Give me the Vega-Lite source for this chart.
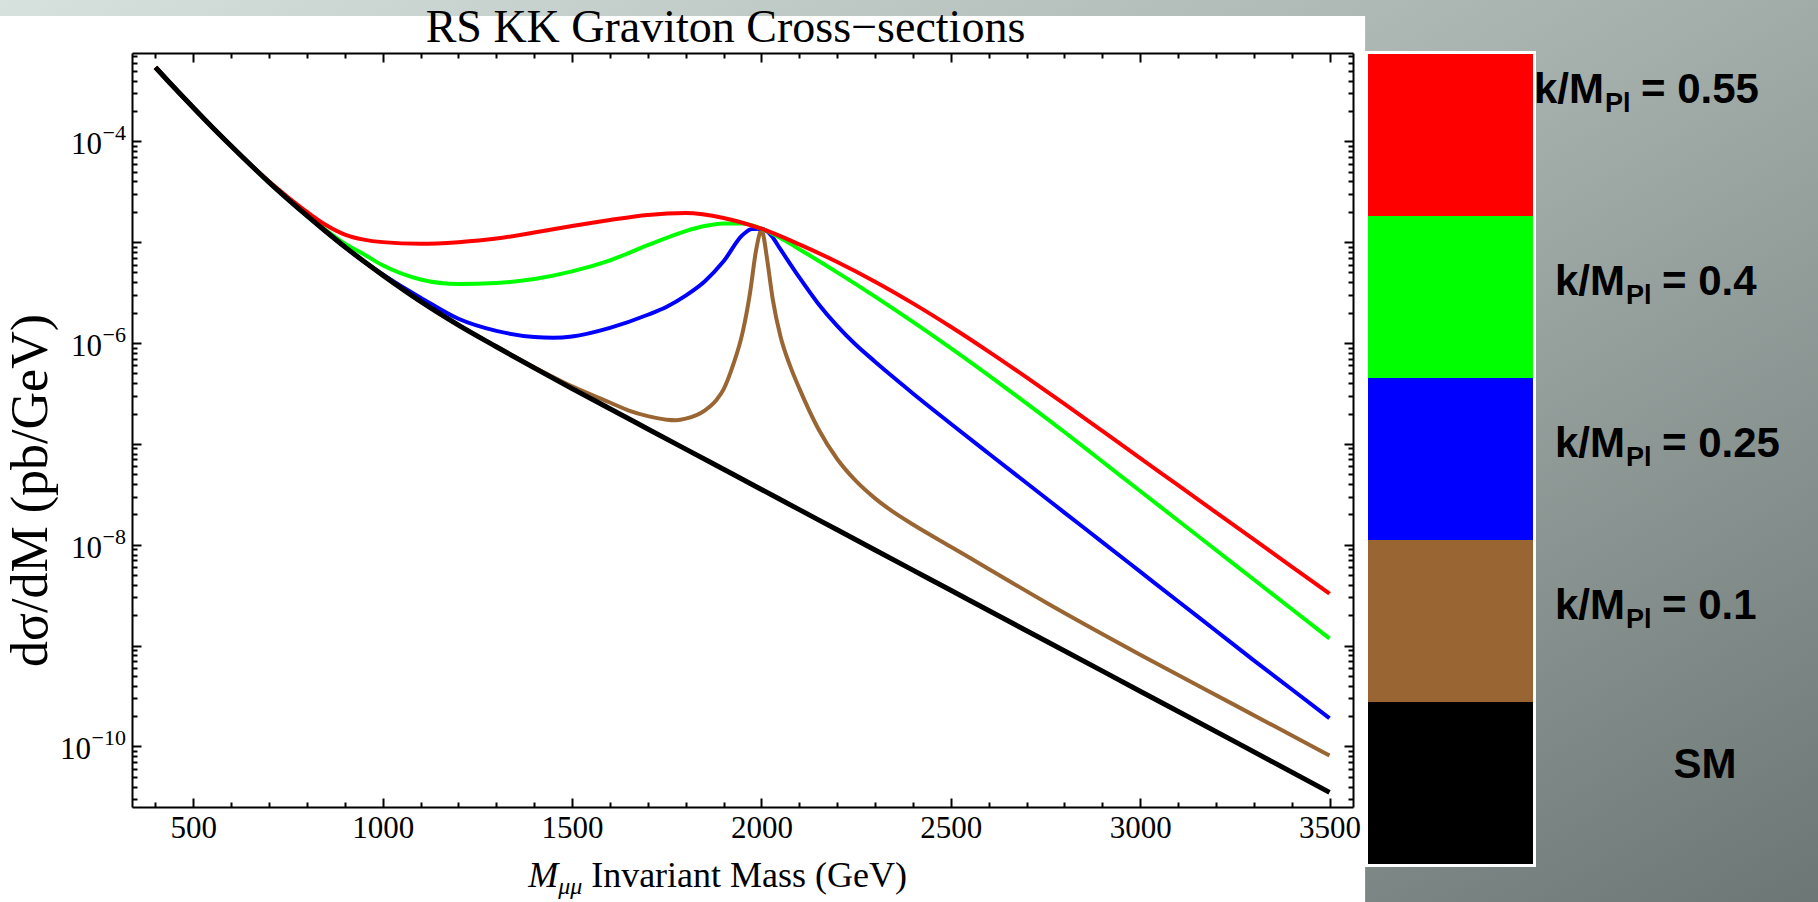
{
  "$schema": "https://vega.github.io/schema/vega-lite/v6.json",
  "width": 1221,
  "height": 754,
  "autosize": {"type": "none"},
  "padding": {"left": 132, "top": 53, "right": 465, "bottom": 95},
  "background": "#8e9996",
  "config": {"view": {"stroke": null}},
  "datasets": {
    "curves": [
      {"M": 400, "dsdm": 5.408e-4, "series": "k/M_Pl = 0.1"},
      {"M": 450, "dsdm": 3.388e-4, "series": "k/M_Pl = 0.1"},
      {"M": 500, "dsdm": 2.153e-4, "series": "k/M_Pl = 0.1"},
      {"M": 550, "dsdm": 1.380e-4, "series": "k/M_Pl = 0.1"},
      {"M": 600, "dsdm": 8.974e-5, "series": "k/M_Pl = 0.1"},
      {"M": 650, "dsdm": 5.888e-5, "series": "k/M_Pl = 0.1"},
      {"M": 700, "dsdm": 3.917e-5, "series": "k/M_Pl = 0.1"},
      {"M": 750, "dsdm": 2.661e-5, "series": "k/M_Pl = 0.1"},
      {"M": 800, "dsdm": 1.832e-5, "series": "k/M_Pl = 0.1"},
      {"M": 850, "dsdm": 1.274e-5, "series": "k/M_Pl = 0.1"},
      {"M": 900, "dsdm": 8.974e-6, "series": "k/M_Pl = 0.1"},
      {"M": 950, "dsdm": 6.457e-6, "series": "k/M_Pl = 0.1"},
      {"M": 1000, "dsdm": 4.710e-6, "series": "k/M_Pl = 0.1"},
      {"M": 1100, "dsdm": 2.588e-6, "series": "k/M_Pl = 0.1"},
      {"M": 1200, "dsdm": 1.507e-6, "series": "k/M_Pl = 0.1"},
      {"M": 1300, "dsdm": 9.226e-7, "series": "k/M_Pl = 0.1"},
      {"M": 1400, "dsdm": 5.754e-7, "series": "k/M_Pl = 0.1"},
      {"M": 1500, "dsdm": 3.715e-7, "series": "k/M_Pl = 0.1"},
      {"M": 1600, "dsdm": 2.570e-7, "series": "k/M_Pl = 0.1"},
      {"M": 1650, "dsdm": 2.138e-7, "series": "k/M_Pl = 0.1"},
      {"M": 1700, "dsdm": 1.884e-7, "series": "k/M_Pl = 0.1"},
      {"M": 1750, "dsdm": 1.738e-7, "series": "k/M_Pl = 0.1"},
      {"M": 1775, "dsdm": 1.718e-7, "series": "k/M_Pl = 0.1"},
      {"M": 1800, "dsdm": 1.778e-7, "series": "k/M_Pl = 0.1"},
      {"M": 1850, "dsdm": 2.138e-7, "series": "k/M_Pl = 0.1"},
      {"M": 1880, "dsdm": 2.692e-7, "series": "k/M_Pl = 0.1"},
      {"M": 1900, "dsdm": 3.467e-7, "series": "k/M_Pl = 0.1"},
      {"M": 1925, "dsdm": 6.026e-7, "series": "k/M_Pl = 0.1"},
      {"M": 1950, "dsdm": 1.259e-6, "series": "k/M_Pl = 0.1"},
      {"M": 1970, "dsdm": 3.162e-6, "series": "k/M_Pl = 0.1"},
      {"M": 1985, "dsdm": 7.943e-6, "series": "k/M_Pl = 0.1"},
      {"M": 1995, "dsdm": 1.202e-5, "series": "k/M_Pl = 0.1"},
      {"M": 2000, "dsdm": 1.358e-5, "series": "k/M_Pl = 0.1"},
      {"M": 2005, "dsdm": 1.175e-5, "series": "k/M_Pl = 0.1"},
      {"M": 2015, "dsdm": 6.761e-6, "series": "k/M_Pl = 0.1"},
      {"M": 2030, "dsdm": 2.692e-6, "series": "k/M_Pl = 0.1"},
      {"M": 2050, "dsdm": 1.175e-6, "series": "k/M_Pl = 0.1"},
      {"M": 2075, "dsdm": 6.026e-7, "series": "k/M_Pl = 0.1"},
      {"M": 2100, "dsdm": 3.548e-7, "series": "k/M_Pl = 0.1"},
      {"M": 2150, "dsdm": 1.413e-7, "series": "k/M_Pl = 0.1"},
      {"M": 2200, "dsdm": 7.079e-8, "series": "k/M_Pl = 0.1"},
      {"M": 2250, "dsdm": 4.266e-8, "series": "k/M_Pl = 0.1"},
      {"M": 2300, "dsdm": 2.884e-8, "series": "k/M_Pl = 0.1"},
      {"M": 2350, "dsdm": 2.089e-8, "series": "k/M_Pl = 0.1"},
      {"M": 2400, "dsdm": 1.585e-8, "series": "k/M_Pl = 0.1"},
      {"M": 2500, "dsdm": 9.550e-9, "series": "k/M_Pl = 0.1"},
      {"M": 2600, "dsdm": 5.754e-9, "series": "k/M_Pl = 0.1"},
      {"M": 2750, "dsdm": 2.692e-9, "series": "k/M_Pl = 0.1"},
      {"M": 3000, "dsdm": 8.128e-10, "series": "k/M_Pl = 0.1"},
      {"M": 3250, "dsdm": 2.570e-10, "series": "k/M_Pl = 0.1"},
      {"M": 3500, "dsdm": 8.128e-11, "series": "k/M_Pl = 0.1"},

      {"M": 400, "dsdm": 5.408e-4, "series": "k/M_Pl = 0.25"},
      {"M": 450, "dsdm": 3.388e-4, "series": "k/M_Pl = 0.25"},
      {"M": 500, "dsdm": 2.153e-4, "series": "k/M_Pl = 0.25"},
      {"M": 550, "dsdm": 1.380e-4, "series": "k/M_Pl = 0.25"},
      {"M": 600, "dsdm": 8.974e-5, "series": "k/M_Pl = 0.25"},
      {"M": 650, "dsdm": 5.888e-5, "series": "k/M_Pl = 0.25"},
      {"M": 700, "dsdm": 3.917e-5, "series": "k/M_Pl = 0.25"},
      {"M": 750, "dsdm": 2.661e-5, "series": "k/M_Pl = 0.25"},
      {"M": 800, "dsdm": 1.832e-5, "series": "k/M_Pl = 0.25"},
      {"M": 850, "dsdm": 1.274e-5, "series": "k/M_Pl = 0.25"},
      {"M": 900, "dsdm": 8.974e-6, "series": "k/M_Pl = 0.25"},
      {"M": 950, "dsdm": 6.457e-6, "series": "k/M_Pl = 0.25"},
      {"M": 1000, "dsdm": 4.786e-6, "series": "k/M_Pl = 0.25"},
      {"M": 1050, "dsdm": 3.631e-6, "series": "k/M_Pl = 0.25"},
      {"M": 1100, "dsdm": 2.818e-6, "series": "k/M_Pl = 0.25"},
      {"M": 1200, "dsdm": 1.738e-6, "series": "k/M_Pl = 0.25"},
      {"M": 1300, "dsdm": 1.318e-6, "series": "k/M_Pl = 0.25"},
      {"M": 1400, "dsdm": 1.148e-6, "series": "k/M_Pl = 0.25"},
      {"M": 1450, "dsdm": 1.130e-6, "series": "k/M_Pl = 0.25"},
      {"M": 1500, "dsdm": 1.161e-6, "series": "k/M_Pl = 0.25"},
      {"M": 1600, "dsdm": 1.413e-6, "series": "k/M_Pl = 0.25"},
      {"M": 1700, "dsdm": 1.905e-6, "series": "k/M_Pl = 0.25"},
      {"M": 1750, "dsdm": 2.291e-6, "series": "k/M_Pl = 0.25"},
      {"M": 1800, "dsdm": 2.951e-6, "series": "k/M_Pl = 0.25"},
      {"M": 1850, "dsdm": 4.074e-6, "series": "k/M_Pl = 0.25"},
      {"M": 1900, "dsdm": 6.457e-6, "series": "k/M_Pl = 0.25"},
      {"M": 1950, "dsdm": 1.175e-5, "series": "k/M_Pl = 0.25"},
      {"M": 1975, "dsdm": 1.349e-5, "series": "k/M_Pl = 0.25"},
      {"M": 2000, "dsdm": 1.358e-5, "series": "k/M_Pl = 0.25"},
      {"M": 2025, "dsdm": 1.175e-5, "series": "k/M_Pl = 0.25"},
      {"M": 2050, "dsdm": 8.511e-6, "series": "k/M_Pl = 0.25"},
      {"M": 2100, "dsdm": 4.467e-6, "series": "k/M_Pl = 0.25"},
      {"M": 2150, "dsdm": 2.455e-6, "series": "k/M_Pl = 0.25"},
      {"M": 2200, "dsdm": 1.479e-6, "series": "k/M_Pl = 0.25"},
      {"M": 2250, "dsdm": 9.550e-7, "series": "k/M_Pl = 0.25"},
      {"M": 2300, "dsdm": 6.531e-7, "series": "k/M_Pl = 0.25"},
      {"M": 2350, "dsdm": 4.519e-7, "series": "k/M_Pl = 0.25"},
      {"M": 2400, "dsdm": 3.162e-7, "series": "k/M_Pl = 0.25"},
      {"M": 2500, "dsdm": 1.585e-7, "series": "k/M_Pl = 0.25"},
      {"M": 2600, "dsdm": 8.035e-8, "series": "k/M_Pl = 0.25"},
      {"M": 2700, "dsdm": 4.093e-8, "series": "k/M_Pl = 0.25"},
      {"M": 2800, "dsdm": 2.084e-8, "series": "k/M_Pl = 0.25"},
      {"M": 2900, "dsdm": 1.062e-8, "series": "k/M_Pl = 0.25"},
      {"M": 3000, "dsdm": 5.408e-9, "series": "k/M_Pl = 0.25"},
      {"M": 3100, "dsdm": 2.754e-9, "series": "k/M_Pl = 0.25"},
      {"M": 3200, "dsdm": 1.403e-9, "series": "k/M_Pl = 0.25"},
      {"M": 3300, "dsdm": 7.145e-10, "series": "k/M_Pl = 0.25"},
      {"M": 3400, "dsdm": 3.690e-10, "series": "k/M_Pl = 0.25"},
      {"M": 3500, "dsdm": 1.905e-10, "series": "k/M_Pl = 0.25"},

      {"M": 400, "dsdm": 5.408e-4, "series": "k/M_Pl = 0.4"},
      {"M": 450, "dsdm": 3.388e-4, "series": "k/M_Pl = 0.4"},
      {"M": 500, "dsdm": 2.153e-4, "series": "k/M_Pl = 0.4"},
      {"M": 550, "dsdm": 1.380e-4, "series": "k/M_Pl = 0.4"},
      {"M": 600, "dsdm": 8.974e-5, "series": "k/M_Pl = 0.4"},
      {"M": 650, "dsdm": 5.888e-5, "series": "k/M_Pl = 0.4"},
      {"M": 700, "dsdm": 3.917e-5, "series": "k/M_Pl = 0.4"},
      {"M": 750, "dsdm": 2.661e-5, "series": "k/M_Pl = 0.4"},
      {"M": 800, "dsdm": 1.832e-5, "series": "k/M_Pl = 0.4"},
      {"M": 850, "dsdm": 1.318e-5, "series": "k/M_Pl = 0.4"},
      {"M": 900, "dsdm": 9.661e-6, "series": "k/M_Pl = 0.4"},
      {"M": 950, "dsdm": 7.586e-6, "series": "k/M_Pl = 0.4"},
      {"M": 1000, "dsdm": 5.888e-6, "series": "k/M_Pl = 0.4"},
      {"M": 1100, "dsdm": 4.266e-6, "series": "k/M_Pl = 0.4"},
      {"M": 1200, "dsdm": 3.846e-6, "series": "k/M_Pl = 0.4"},
      {"M": 1300, "dsdm": 3.936e-6, "series": "k/M_Pl = 0.4"},
      {"M": 1400, "dsdm": 4.315e-6, "series": "k/M_Pl = 0.4"},
      {"M": 1500, "dsdm": 5.129e-6, "series": "k/M_Pl = 0.4"},
      {"M": 1600, "dsdm": 6.607e-6, "series": "k/M_Pl = 0.4"},
      {"M": 1700, "dsdm": 9.333e-6, "series": "k/M_Pl = 0.4"},
      {"M": 1800, "dsdm": 1.288e-5, "series": "k/M_Pl = 0.4"},
      {"M": 1850, "dsdm": 1.445e-5, "series": "k/M_Pl = 0.4"},
      {"M": 1900, "dsdm": 1.531e-5, "series": "k/M_Pl = 0.4"},
      {"M": 1950, "dsdm": 1.531e-5, "series": "k/M_Pl = 0.4"},
      {"M": 2000, "dsdm": 1.358e-5, "series": "k/M_Pl = 0.4"},
      {"M": 2050, "dsdm": 1.096e-5, "series": "k/M_Pl = 0.4"},
      {"M": 2100, "dsdm": 8.511e-6, "series": "k/M_Pl = 0.4"},
      {"M": 2200, "dsdm": 5.012e-6, "series": "k/M_Pl = 0.4"},
      {"M": 2300, "dsdm": 2.884e-6, "series": "k/M_Pl = 0.4"},
      {"M": 2400, "dsdm": 1.622e-6, "series": "k/M_Pl = 0.4"},
      {"M": 2500, "dsdm": 8.913e-7, "series": "k/M_Pl = 0.4"},
      {"M": 2600, "dsdm": 4.786e-7, "series": "k/M_Pl = 0.4"},
      {"M": 2700, "dsdm": 2.523e-7, "series": "k/M_Pl = 0.4"},
      {"M": 2800, "dsdm": 1.312e-7, "series": "k/M_Pl = 0.4"},
      {"M": 2900, "dsdm": 6.683e-8, "series": "k/M_Pl = 0.4"},
      {"M": 3000, "dsdm": 3.412e-8, "series": "k/M_Pl = 0.4"},
      {"M": 3100, "dsdm": 1.738e-8, "series": "k/M_Pl = 0.4"},
      {"M": 3200, "dsdm": 8.872e-9, "series": "k/M_Pl = 0.4"},
      {"M": 3300, "dsdm": 4.519e-9, "series": "k/M_Pl = 0.4"},
      {"M": 3400, "dsdm": 2.307e-9, "series": "k/M_Pl = 0.4"},
      {"M": 3500, "dsdm": 1.175e-9, "series": "k/M_Pl = 0.4"},

      {"M": 400, "dsdm": 5.408e-4, "series": "k/M_Pl = 0.55"},
      {"M": 450, "dsdm": 3.388e-4, "series": "k/M_Pl = 0.55"},
      {"M": 500, "dsdm": 2.153e-4, "series": "k/M_Pl = 0.55"},
      {"M": 550, "dsdm": 1.380e-4, "series": "k/M_Pl = 0.55"},
      {"M": 600, "dsdm": 8.974e-5, "series": "k/M_Pl = 0.55"},
      {"M": 650, "dsdm": 5.888e-5, "series": "k/M_Pl = 0.55"},
      {"M": 700, "dsdm": 3.981e-5, "series": "k/M_Pl = 0.55"},
      {"M": 750, "dsdm": 2.786e-5, "series": "k/M_Pl = 0.55"},
      {"M": 800, "dsdm": 1.995e-5, "series": "k/M_Pl = 0.55"},
      {"M": 850, "dsdm": 1.479e-5, "series": "k/M_Pl = 0.55"},
      {"M": 900, "dsdm": 1.189e-5, "series": "k/M_Pl = 0.55"},
      {"M": 950, "dsdm": 1.059e-5, "series": "k/M_Pl = 0.55"},
      {"M": 1000, "dsdm": 1.0e-5, "series": "k/M_Pl = 0.55"},
      {"M": 1100, "dsdm": 9.638e-6, "series": "k/M_Pl = 0.55"},
      {"M": 1200, "dsdm": 1.0e-5, "series": "k/M_Pl = 0.55"},
      {"M": 1300, "dsdm": 1.084e-5, "series": "k/M_Pl = 0.55"},
      {"M": 1400, "dsdm": 1.245e-5, "series": "k/M_Pl = 0.55"},
      {"M": 1500, "dsdm": 1.445e-5, "series": "k/M_Pl = 0.55"},
      {"M": 1600, "dsdm": 1.660e-5, "series": "k/M_Pl = 0.55"},
      {"M": 1700, "dsdm": 1.862e-5, "series": "k/M_Pl = 0.55"},
      {"M": 1800, "dsdm": 1.941e-5, "series": "k/M_Pl = 0.55"},
      {"M": 1900, "dsdm": 1.738e-5, "series": "k/M_Pl = 0.55"},
      {"M": 2000, "dsdm": 1.358e-5, "series": "k/M_Pl = 0.55"},
      {"M": 2100, "dsdm": 9.506e-6, "series": "k/M_Pl = 0.55"},
      {"M": 2200, "dsdm": 6.353e-6, "series": "k/M_Pl = 0.55"},
      {"M": 2300, "dsdm": 4.055e-6, "series": "k/M_Pl = 0.55"},
      {"M": 2400, "dsdm": 2.472e-6, "series": "k/M_Pl = 0.55"},
      {"M": 2500, "dsdm": 1.449e-6, "series": "k/M_Pl = 0.55"},
      {"M": 2600, "dsdm": 8.222e-7, "series": "k/M_Pl = 0.55"},
      {"M": 2700, "dsdm": 4.560e-7, "series": "k/M_Pl = 0.55"},
      {"M": 2800, "dsdm": 2.489e-7, "series": "k/M_Pl = 0.55"},
      {"M": 2900, "dsdm": 1.343e-7, "series": "k/M_Pl = 0.55"},
      {"M": 3000, "dsdm": 7.211e-8, "series": "k/M_Pl = 0.55"},
      {"M": 3100, "dsdm": 3.890e-8, "series": "k/M_Pl = 0.55"},
      {"M": 3200, "dsdm": 2.094e-8, "series": "k/M_Pl = 0.55"},
      {"M": 3300, "dsdm": 1.130e-8, "series": "k/M_Pl = 0.55"},
      {"M": 3400, "dsdm": 6.081e-9, "series": "k/M_Pl = 0.55"},
      {"M": 3500, "dsdm": 3.281e-9, "series": "k/M_Pl = 0.55"},

      {"M": 400, "dsdm": 5.408e-4, "series": "SM"},
      {"M": 450, "dsdm": 3.388e-4, "series": "SM"},
      {"M": 500, "dsdm": 2.153e-4, "series": "SM"},
      {"M": 550, "dsdm": 1.380e-4, "series": "SM"},
      {"M": 600, "dsdm": 8.974e-5, "series": "SM"},
      {"M": 650, "dsdm": 5.888e-5, "series": "SM"},
      {"M": 700, "dsdm": 3.917e-5, "series": "SM"},
      {"M": 750, "dsdm": 2.661e-5, "series": "SM"},
      {"M": 800, "dsdm": 1.832e-5, "series": "SM"},
      {"M": 850, "dsdm": 1.274e-5, "series": "SM"},
      {"M": 900, "dsdm": 8.974e-6, "series": "SM"},
      {"M": 950, "dsdm": 6.457e-6, "series": "SM"},
      {"M": 1000, "dsdm": 4.710e-6, "series": "SM"},
      {"M": 1100, "dsdm": 2.588e-6, "series": "SM"},
      {"M": 1200, "dsdm": 1.507e-6, "series": "SM"},
      {"M": 1300, "dsdm": 9.183e-7, "series": "SM"},
      {"M": 1400, "dsdm": 5.662e-7, "series": "SM"},
      {"M": 1500, "dsdm": 3.532e-7, "series": "SM"},
      {"M": 1600, "dsdm": 2.228e-7, "series": "SM"},
      {"M": 1700, "dsdm": 1.406e-7, "series": "SM"},
      {"M": 1800, "dsdm": 8.872e-8, "series": "SM"},
      {"M": 1900, "dsdm": 5.598e-8, "series": "SM"},
      {"M": 2000, "dsdm": 3.532e-8, "series": "SM"},
      {"M": 2100, "dsdm": 2.228e-8, "series": "SM"},
      {"M": 2200, "dsdm": 1.406e-8, "series": "SM"},
      {"M": 2300, "dsdm": 8.872e-9, "series": "SM"},
      {"M": 2400, "dsdm": 5.598e-9, "series": "SM"},
      {"M": 2500, "dsdm": 3.532e-9, "series": "SM"},
      {"M": 2600, "dsdm": 2.228e-9, "series": "SM"},
      {"M": 2750, "dsdm": 1.117e-9, "series": "SM"},
      {"M": 3000, "dsdm": 3.532e-10, "series": "SM"},
      {"M": 3250, "dsdm": 1.117e-10, "series": "SM"},
      {"M": 3500, "dsdm": 3.508e-11, "series": "SM"}
    ],
    "ylabels": [
      {"tick": 1e-4, "exp": "−4"},
      {"tick": 1e-6, "exp": "−6"},
      {"tick": 1e-8, "exp": "−8"},
      {"tick": 1e-10, "exp": "−10"}
    ],
    "legend": [
      {"series": "k/M_Pl = 0.55", "name": "k/M", "sub": "Pl", "rest": "= 0.55"},
      {"series": "k/M_Pl = 0.4", "name": "k/M", "sub": "Pl", "rest": "= 0.4"},
      {"series": "k/M_Pl = 0.25", "name": "k/M", "sub": "Pl", "rest": "= 0.25"},
      {"series": "k/M_Pl = 0.1", "name": "k/M", "sub": "Pl", "rest": "= 0.1"},
      {"series": "SM", "name": "SM", "sub": "", "rest": ""}
    ]
  },
  "resolve": {"scale": {"x": "independent", "y": "independent"}},
  "layer": [
    {
      "resolve": {"axis": {"x": "independent", "y": "independent"}},
      "layer": [
        {
          "data": {"values": [{}]},
          "mark": {
            "type": "rect",
            "fill": {
              "gradient": "linear", "x1": 0, "y1": 0, "x2": 1, "y2": 1,
              "stops": [
                {"offset": 0, "color": "#dbe6e3"},
                {"offset": 0.5, "color": "#a2adaa"},
                {"offset": 1, "color": "#616b69"}
              ]
            }
          },
          "encoding": {
            "x": {"datum": -100, "type": "quantitative", "scale": {"domain": [338, 3562], "nice": false, "zero": false}, "axis": null},
            "x2": {"datum": 5000},
            "y": {"datum": 0.01, "type": "quantitative", "scale": {"type": "log", "domain": [2.5119e-11, 7.4989e-4], "nice": false}, "axis": null},
            "y2": {"datum": 1e-13}
          }
        },
        {
          "data": {"values": [{}]},
          "mark": {"type": "rect", "fill": "white"},
          "encoding": {
            "x": {"datum": -100, "type": "quantitative", "scale": {"domain": [338, 3562], "nice": false, "zero": false}, "axis": null},
            "x2": {"datum": 3594},
            "y": {"datum": 0.001745, "type": "quantitative", "scale": {"type": "log", "domain": [2.5119e-11, 7.4989e-4], "nice": false}, "axis": null},
            "y2": {"datum": 1e-13}
          }
        },
        {
          "data": {"name": "curves"},
          "mark": {"type": "line", "interpolate": "monotone", "strokeJoin": "round"},
          "encoding": {
            "x": {
              "field": "M", "type": "quantitative",
              "scale": {"domain": [338, 3562], "nice": false, "zero": false},
              "axis": {
                "orient": "bottom", "zindex": 1, "grid": false, "title": null,
                "values": [400,500,600,700,800,900,1000,1100,1200,1300,1400,1500,1600,1700,1800,1900,2000,2100,2200,2300,2400,2500,2600,2700,2800,2900,3000,3100,3200,3300,3400,3500],
                "labelExpr": "datum.value % 500 === 0 ? format(datum.value, 'd') : ''",
                "tickSize": {"condition": {"test": "datum.value % 500 === 0", "value": -9}, "value": -5},
                "tickColor": "black", "tickWidth": 2,
                "domainColor": "black", "domainWidth": 2,
                "labelFont": "Liberation Serif", "labelFontSize": 31, "labelColor": "black",
                "labelPadding": 15, "labelFlush": false, "labelOverlap": false, "labelBound": false
              }
            },
            "y": {
              "field": "dsdm", "type": "quantitative",
              "scale": {"type": "log", "domain": [2.5119e-11, 7.4989e-4], "nice": false},
              "axis": {
                "orient": "left", "zindex": 1, "grid": false, "labels": false,
                "values": [3e-11,4e-11,5e-11,6e-11,7e-11,8e-11,9e-11,1e-10,2e-10,3e-10,4e-10,5e-10,6e-10,7e-10,8e-10,9e-10,1e-9,2e-9,3e-9,4e-9,5e-9,6e-9,7e-9,8e-9,9e-9,1e-8,2e-8,3e-8,4e-8,5e-8,6e-8,7e-8,8e-8,9e-8,1e-7,2e-7,3e-7,4e-7,5e-7,6e-7,7e-7,8e-7,9e-7,1e-6,2e-6,3e-6,4e-6,5e-6,6e-6,7e-6,8e-6,9e-6,1e-5,2e-5,3e-5,4e-5,5e-5,6e-5,7e-5,8e-5,9e-5,1e-4,2e-4,3e-4,4e-4,5e-4,6e-4,7e-4],
                "tickSize": {"condition": {"test": "abs(log(datum.value) / LN10 - round(log(datum.value) / LN10)) < 0.001", "value": -9}, "value": -5},
                "tickColor": "black", "tickWidth": 2,
                "domainColor": "black", "domainWidth": 2,
                "title": "dσ/dM (pb/GeV)",
                "titleFont": "Liberation Serif", "titleFontSize": 52, "titleFontWeight": "normal", "titleColor": "black",
                "titleAngle": 270, "titleAlign": "center", "titleBaseline": "middle",
                "titleX": -102, "titleY": 437
              }
            },
            "color": {
              "field": "series", "type": "nominal",
              "scale": {
                "domain": ["k/M_Pl = 0.55", "k/M_Pl = 0.4", "k/M_Pl = 0.25", "k/M_Pl = 0.1", "SM"],
                "range": ["#ff0000", "#00ff00", "#0000ff", "#996633", "#000000"]
              },
              "legend": null
            },
            "strokeWidth": {"condition": {"test": "datum.series === 'SM'", "value": 5}, "value": 4}
          }
        },
        {
          "data": {"name": "curves"},
          "mark": {"type": "line", "opacity": 0},
          "encoding": {
            "x": {
              "field": "M", "type": "quantitative",
              "scale": {"domain": [338, 3562], "nice": false, "zero": false},
              "axis": {
                "orient": "top", "zindex": 1, "grid": false, "title": null, "labels": false,
                "values": [400,500,600,700,800,900,1000,1100,1200,1300,1400,1500,1600,1700,1800,1900,2000,2100,2200,2300,2400,2500,2600,2700,2800,2900,3000,3100,3200,3300,3400,3500],
                "tickSize": {"condition": {"test": "datum.value % 500 === 0", "value": -9}, "value": -5},
                "tickColor": "black", "tickWidth": 2,
                "domainColor": "black", "domainWidth": 2
              }
            },
            "y": {
              "field": "dsdm", "type": "quantitative",
              "scale": {"type": "log", "domain": [2.5119e-11, 7.4989e-4], "nice": false},
              "axis": {
                "orient": "right", "zindex": 1, "grid": false, "title": null, "labels": false,
                "values": [3e-11,4e-11,5e-11,6e-11,7e-11,8e-11,9e-11,1e-10,2e-10,3e-10,4e-10,5e-10,6e-10,7e-10,8e-10,9e-10,1e-9,2e-9,3e-9,4e-9,5e-9,6e-9,7e-9,8e-9,9e-9,1e-8,2e-8,3e-8,4e-8,5e-8,6e-8,7e-8,8e-8,9e-8,1e-7,2e-7,3e-7,4e-7,5e-7,6e-7,7e-7,8e-7,9e-7,1e-6,2e-6,3e-6,4e-6,5e-6,6e-6,7e-6,8e-6,9e-6,1e-5,2e-5,3e-5,4e-5,5e-5,6e-5,7e-5,8e-5,9e-5,1e-4,2e-4,3e-4,4e-4,5e-4,6e-4,7e-4],
                "tickSize": {"condition": {"test": "abs(log(datum.value) / LN10 - round(log(datum.value) / LN10)) < 0.001", "value": -9}, "value": -5},
                "tickColor": "black", "tickWidth": 2,
                "domainColor": "black", "domainWidth": 2
              }
            },
            "detail": {"field": "series"}
          }
        },
        {
          "data": {"name": "ylabels"},
          "transform": [{"filter": "datum.exp !== '−10'"}],
          "mark": {"type": "text", "font": "Liberation Serif", "fontSize": 31, "align": "right", "baseline": "middle", "dx": -30, "dy": 4, "color": "black"},
          "encoding": {
            "x": {"datum": 338, "type": "quantitative", "scale": {"domain": [338, 3562], "nice": false, "zero": false}, "axis": null},
            "y": {"field": "tick", "type": "quantitative", "scale": {"type": "log", "domain": [2.5119e-11, 7.4989e-4], "nice": false}, "axis": null},
            "text": {"value": "10"}
          }
        },
        {
          "data": {"name": "ylabels"},
          "transform": [{"filter": "datum.exp === '−10'"}],
          "mark": {"type": "text", "font": "Liberation Serif", "fontSize": 31, "align": "right", "baseline": "middle", "dx": -41, "dy": 4, "color": "black"},
          "encoding": {
            "x": {"datum": 338, "type": "quantitative", "scale": {"domain": [338, 3562], "nice": false, "zero": false}, "axis": null},
            "y": {"field": "tick", "type": "quantitative", "scale": {"type": "log", "domain": [2.5119e-11, 7.4989e-4], "nice": false}, "axis": null},
            "text": {"value": "10"}
          }
        },
        {
          "data": {"name": "ylabels"},
          "mark": {"type": "text", "font": "Liberation Serif", "fontSize": 22, "align": "right", "baseline": "middle", "dx": -6, "dy": -8, "color": "black"},
          "encoding": {
            "x": {"datum": 338, "type": "quantitative", "scale": {"domain": [338, 3562], "nice": false, "zero": false}, "axis": null},
            "y": {"field": "tick", "type": "quantitative", "scale": {"type": "log", "domain": [2.5119e-11, 7.4989e-4], "nice": false}, "axis": null},
            "text": {"field": "exp"}
          }
        },
        {
          "data": {"values": [{"part": "RS KK Graviton Cross−sections"}]},
          "mark": {"type": "text", "font": "Liberation Serif", "fontSize": 46, "align": "center", "baseline": "alphabetic", "dy": -11, "color": "black"},
          "encoding": {
            "x": {"datum": 1905, "type": "quantitative", "scale": {"domain": [338, 3562], "nice": false, "zero": false}, "axis": null},
            "y": {"datum": 7.4989e-4, "type": "quantitative", "scale": {"type": "log", "domain": [2.5119e-11, 7.4989e-4], "nice": false}, "axis": null},
            "text": {"field": "part"}
          }
        },
        {
          "data": {"values": [{"part": "M"}]},
          "mark": {"type": "text", "font": "Liberation Serif", "fontSize": 36, "fontStyle": "italic", "align": "left", "baseline": "alphabetic", "dy": 80, "color": "black"},
          "encoding": {
            "x": {"datum": 1384, "type": "quantitative", "scale": {"domain": [338, 3562], "nice": false, "zero": false}, "axis": null},
            "y": {"value": "height"},
            "text": {"field": "part"}
          }
        },
        {
          "data": {"values": [{"part": "μμ"}]},
          "mark": {"type": "text", "font": "Liberation Serif", "fontSize": 24, "fontStyle": "italic", "align": "left", "baseline": "alphabetic", "dx": 30, "dy": 87, "color": "black"},
          "encoding": {
            "x": {"datum": 1384, "type": "quantitative", "scale": {"domain": [338, 3562], "nice": false, "zero": false}, "axis": null},
            "y": {"value": "height"},
            "text": {"field": "part"}
          }
        },
        {
          "data": {"values": [{"part": "Invariant Mass (GeV)"}]},
          "mark": {"type": "text", "font": "Liberation Serif", "fontSize": 36, "align": "left", "baseline": "alphabetic", "dx": 63, "dy": 80, "color": "black"},
          "encoding": {
            "x": {"datum": 1384, "type": "quantitative", "scale": {"domain": [338, 3562], "nice": false, "zero": false}, "axis": null},
            "y": {"value": "height"},
            "text": {"field": "part"}
          }
        }
      ]
    },
    {
      "data": {"name": "legend"},
      "encoding": {
        "y": {
          "field": "series", "type": "nominal",
          "scale": {
            "domain": ["k/M_Pl = 0.55", "k/M_Pl = 0.4", "k/M_Pl = 0.25", "k/M_Pl = 0.1", "SM"],
            "range": [1, 811], "paddingInner": 0, "paddingOuter": 0
          },
          "axis": null
        }
      },
      "layer": [
        {
          "mark": {"type": "rect", "stroke": "white", "strokeWidth": 6, "xOffset": 15, "x2Offset": 180},
          "encoding": {
            "x": {"value": "width"},
            "x2": {"value": "width"},
            "color": {"field": "series", "type": "nominal", "legend": null}
          }
        },
        {
          "mark": {"type": "rect", "xOffset": 15, "x2Offset": 180},
          "encoding": {
            "x": {"value": "width"},
            "x2": {"value": "width"},
            "color": {"field": "series", "type": "nominal", "legend": null}
          }
        },
        {
          "transform": [{"filter": "datum.series === 'k/M_Pl = 0.55'"}],
          "mark": {"type": "text", "font": "Liberation Sans", "fontWeight": "bold", "fontSize": 42, "align": "left", "baseline": "middle", "dx": 181, "dy": -45, "color": "black"},
          "encoding": {"x": {"value": "width"}, "text": {"field": "name"}}
        },
        {
          "transform": [{"filter": "datum.series === 'k/M_Pl = 0.55'"}],
          "mark": {"type": "text", "font": "Liberation Sans", "fontWeight": "bold", "fontSize": 27, "align": "left", "baseline": "middle", "dx": 252, "dy": -31, "color": "black"},
          "encoding": {"x": {"value": "width"}, "text": {"field": "sub"}}
        },
        {
          "transform": [{"filter": "datum.series === 'k/M_Pl = 0.55'"}],
          "mark": {"type": "text", "font": "Liberation Sans", "fontWeight": "bold", "fontSize": 42, "align": "left", "baseline": "middle", "dx": 288, "dy": -45, "color": "black"},
          "encoding": {"x": {"value": "width"}, "text": {"field": "rest"}}
        },
        {
          "transform": [{"filter": "datum.series !== 'k/M_Pl = 0.55' && datum.series !== 'SM'"}],
          "mark": {"type": "text", "font": "Liberation Sans", "fontWeight": "bold", "fontSize": 42, "align": "left", "baseline": "middle", "dx": 202, "dy": -15, "color": "black"},
          "encoding": {"x": {"value": "width"}, "text": {"field": "name"}}
        },
        {
          "transform": [{"filter": "datum.series !== 'k/M_Pl = 0.55' && datum.series !== 'SM'"}],
          "mark": {"type": "text", "font": "Liberation Sans", "fontWeight": "bold", "fontSize": 27, "align": "left", "baseline": "middle", "dx": 273, "dy": -1, "color": "black"},
          "encoding": {"x": {"value": "width"}, "text": {"field": "sub"}}
        },
        {
          "transform": [{"filter": "datum.series !== 'k/M_Pl = 0.55' && datum.series !== 'SM'"}],
          "mark": {"type": "text", "font": "Liberation Sans", "fontWeight": "bold", "fontSize": 42, "align": "left", "baseline": "middle", "dx": 309, "dy": -15, "color": "black"},
          "encoding": {"x": {"value": "width"}, "text": {"field": "rest"}}
        },
        {
          "transform": [{"filter": "datum.series === 'SM'"}],
          "mark": {"type": "text", "font": "Liberation Sans", "fontWeight": "bold", "fontSize": 42, "align": "center", "baseline": "middle", "dx": 352, "dy": -18, "color": "black"},
          "encoding": {"x": {"value": "width"}, "text": {"field": "name"}}
        }
      ]
    }
  ]
}
